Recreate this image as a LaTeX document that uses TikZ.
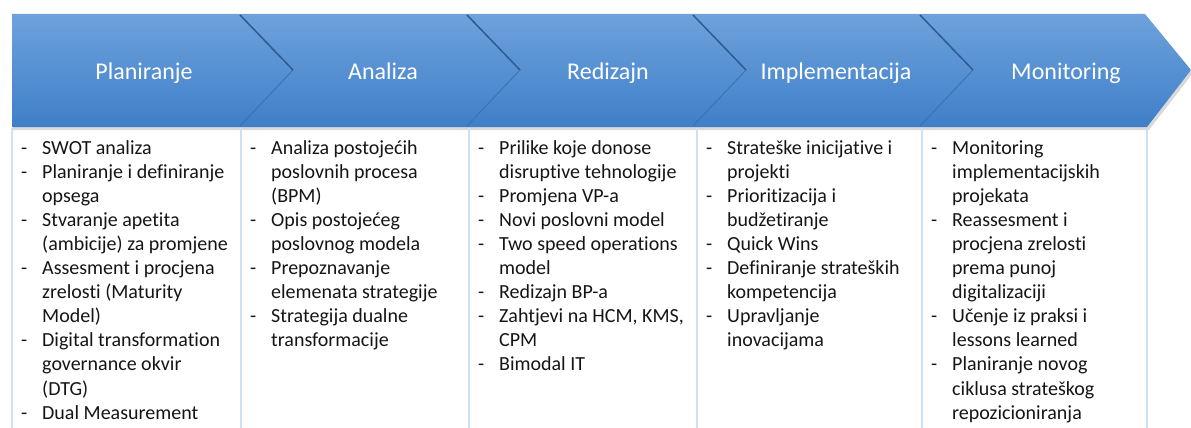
\documentclass[tikz,border=0pt]{standalone}
\usepackage{fontspec}
\setmainfont[Ligatures=NoCommon]{Carlito}
\usetikzlibrary{positioning}

\definecolor{bartop}{HTML}{6DA2DC}
\definecolor{barbottom}{HTML}{3F7FC8}
\definecolor{seamdark}{HTML}{2B5B92}
\definecolor{seamlight}{HTML}{3A70AE}
\definecolor{colblue}{HTML}{CFE0F1}
\definecolor{taskgray}{HTML}{151515}

\newcommand\taskline[1]{-&#1\\}
\newcommand\taskcont[1]{&#1\\}

\tikzset{
  phase/.style={anchor=base, text=white, font=\fontsize{24}{28}\selectfont},
  tasks/.style={anchor=base west, inner sep=0pt, text=taskgray,
    font=\fontsize{20}{24.1}\selectfont},
  colline/.style={draw=colblue, line width=1.2pt},
}

\begin{document}
\begin{tikzpicture}[x=1pt, y=-1pt]
    \useasboundingbox (0,0) rectangle (1191,428);
    % banner with shadow
    \fill[black!15] (13,17) -- (1147,17) -- (1193,73) -- (1149,130) -- (13,130) -- cycle;
    \shade[top color=bartop, bottom color=barbottom]
        (12,14) -- (1145,14) -- (1191,70) -- (1147,127) -- (12,127) -- cycle;
    % chevron seams
    \foreach \sx in {240,467,693,920} {
        \draw[seamdark, line width=1.5pt] (\sx,15) -- (\sx+53,70);
        \draw[seamlight, line width=0.8pt] (\sx+53,70) -- (\sx,126);
    }
    % phase titles
    \node[phase] (plan) at (144,79) {Planiranje};
    \node[phase] (anal) at (383,79) {Analiza};
    \node[phase] (redz) at (608,79) {Redizajn};
    \node[phase] (impl) at (836,79) {Implementacija};
    \node[phase] (moni) at (1066,79) {Monitoring};
    % column borders
    \foreach \cx in {12,241,469,697,922,1147}
        \draw[colline] (\cx,128) -- (\cx,428);
    % task lists
    \node[tasks] (plantasks) at (21,154) {\begin{tabular}[t]{@{}p{21pt}@{}l@{}}
        \taskline{SWOT analiza}
        \taskline{Planiranje i definiranje}
        \taskcont{opsega}
        \taskline{Stvaranje apetita}
        \taskcont{(ambicije) za promjene}
        \taskline{Assesment i procjena}
        \taskcont{zrelosti (Maturity}
        \taskcont{Model)}
        \taskline{Digital transformation}
        \taskcont{governance okvir}
        \taskcont{(DTG)}
        \taskline{Dual Measurement}
    \end{tabular}};
    \node[tasks] (analtasks) at (250,154) {\begin{tabular}[t]{@{}p{21pt}@{}l@{}}
        \taskline{Analiza postojećih}
        \taskcont{poslovnih procesa}
        \taskcont{(BPM)}
        \taskline{Opis postojećeg}
        \taskcont{poslovnog modela}
        \taskline{Prepoznavanje}
        \taskcont{elemenata strategije}
        \taskline{Strategija dualne}
        \taskcont{transformacije}
    \end{tabular}};
    \node[tasks] (redztasks) at (478,154) {\begin{tabular}[t]{@{}p{21pt}@{}l@{}}
        \taskline{Prilike koje donose}
        \taskcont{disruptive tehnologije}
        \taskline{Promjena VP-a}
        \taskline{Novi poslovni model}
        \taskline{Two speed operations}
        \taskcont{model}
        \taskline{Redizajn BP-a}
        \taskline{Zahtjevi na HCM, KMS,}
        \taskcont{CPM}
        \taskline{Bimodal IT}
    \end{tabular}};
    \node[tasks] (impltasks) at (706,154) {\begin{tabular}[t]{@{}p{21pt}@{}l@{}}
        \taskline{Strateške inicijative i}
        \taskcont{projekti}
        \taskline{Prioritizacija i}
        \taskcont{budžetiranje}
        \taskline{Quick Wins}
        \taskline{Definiranje strateških}
        \taskcont{kompetencija}
        \taskline{Upravljanje}
        \taskcont{inovacijama}
    \end{tabular}};
    \node[tasks] (monitasks) at (931,154) {\begin{tabular}[t]{@{}p{21pt}@{}l@{}}
        \taskline{Monitoring}
        \taskcont{implementacijskih}
        \taskcont{projekata}
        \taskline{Reassesment i}
        \taskcont{procjena zrelosti}
        \taskcont{prema punoj}
        \taskcont{digitalizaciji}
        \taskline{Učenje iz praksi i}
        \taskcont{lessons learned}
        \taskline{Planiranje novog}
        \taskcont{ciklusa strateškog}
        \taskcont{repozicioniranja}
    \end{tabular}};
\end{tikzpicture}
\end{document}
